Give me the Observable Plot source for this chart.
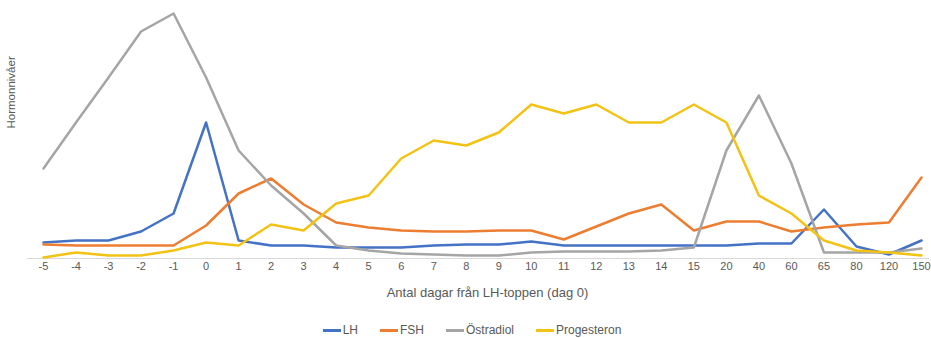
<!DOCTYPE html>
<html>
<head>
<meta charset="utf-8">
<script src="https://cdn.jsdelivr.net/npm/d3@7"></script>
<script src="https://cdn.jsdelivr.net/npm/@observablehq/plot@0.6"></script>
<style>
  html, body { margin: 0; background: #fff; overflow: hidden; font-family: "Liberation Sans", Arial, sans-serif; }
  #chart svg { display: block; }
  #legend { display: flex; justify-content: center; gap: 22px; font-size: 12px; color: #595959; margin-top: 13px; padding-left: 13px; }
  #legend span.item { display: inline-flex; align-items: center; }
  #legend span.sw { display: inline-block; width: 18px; height: 3px; margin-right: 2px; }
</style>
</head>
<body>
<div id="chart"></div>
<div id="legend"></div>
<script>
const days = ["-5","-4","-3","-2","-1","0","1","2","3","4","5","6","7","8","9","10","11","12","13","14","15","20","40","60","65","80","120","150"];
const lh = [16,18,18,27,45,136,18,13,13,11,11,11,13,14,14,17,13,13,13,13,13,13,15,15,49,12,4,18];
const fsh = [14,13,13,13,13,33,65,80,54,36,31,28,27,27,28,28,19,32,45,54,28,37,37,27,31,34,36,81];
const ostradiol = [90,136,181,227,245,181,108,73,45,13,8,5,4,3,3,6,7,7,7,8,11,108,163,95,6,6,6,10];
const progesteron = [1,6,3,3,8,16,13,34,28,55,63,100,118,113,126,154,145,154,136,136,154,136,63,45,18,8,6,3];
const seriesNames = ["LH","FSH","Östradiol","Progesteron"];
const seriesColors = ["#4472C4","#ED7D31","#A5A5A5","#F2C314"];
const seriesValues = [lh, fsh, ostradiol, progesteron];

const rows = [];
seriesNames.forEach((name, s) => {
  days.forEach((d, i) => rows.push({series: name, day: d, value: seriesValues[s][i]}));
});

const chart = Plot.plot({
  width: 931,
  height: 310,
  marginTop: 8,
  marginBottom: 52,
  marginLeft: 43,
  marginRight: 10,
  style: {fontFamily: "Liberation Sans, Arial, sans-serif", fontSize: "11px", color: "#595959", background: "#fff"},
  x: {type: "point", domain: days, padding: 0, round: false, label: null},
  y: {domain: [0, 250], axis: null},
  color: {domain: seriesNames, range: seriesColors},
  marks: [
    Plot.ruleY([0], {stroke: "#d9d9d9", strokeWidth: 1, insetLeft: -16, insetRight: -8}),
    Plot.axisX({tickSize: 0, tickPadding: 4, fontSize: 11, fill: "#595959", label: null}),
    Plot.text(["Antal dagar från LH-toppen (dag 0)"], {frameAnchor: "bottom", dy: 38, dx: 5, fontSize: 13, fill: "#595959"}),
    Plot.text(["Hormonnivåer"], {frameAnchor: "left", dx: -32, dy: -5, rotate: -90, fontSize: 11.5, fill: "#595959"}),
    Plot.lineY(rows, {x: "day", y: "value", z: "series", stroke: "series", strokeWidth: 2.5, strokeLinejoin: "round"})
  ]
});
document.getElementById("chart").appendChild(chart);

const legend = document.getElementById("legend");
seriesNames.forEach((name, i) => {
  const item = document.createElement("span");
  item.className = "item";
  const sw = document.createElement("span");
  sw.className = "sw";
  sw.style.background = seriesColors[i];
  item.appendChild(sw);
  item.appendChild(document.createTextNode(name));
  legend.appendChild(item);
});
</script>
</body>
</html>
